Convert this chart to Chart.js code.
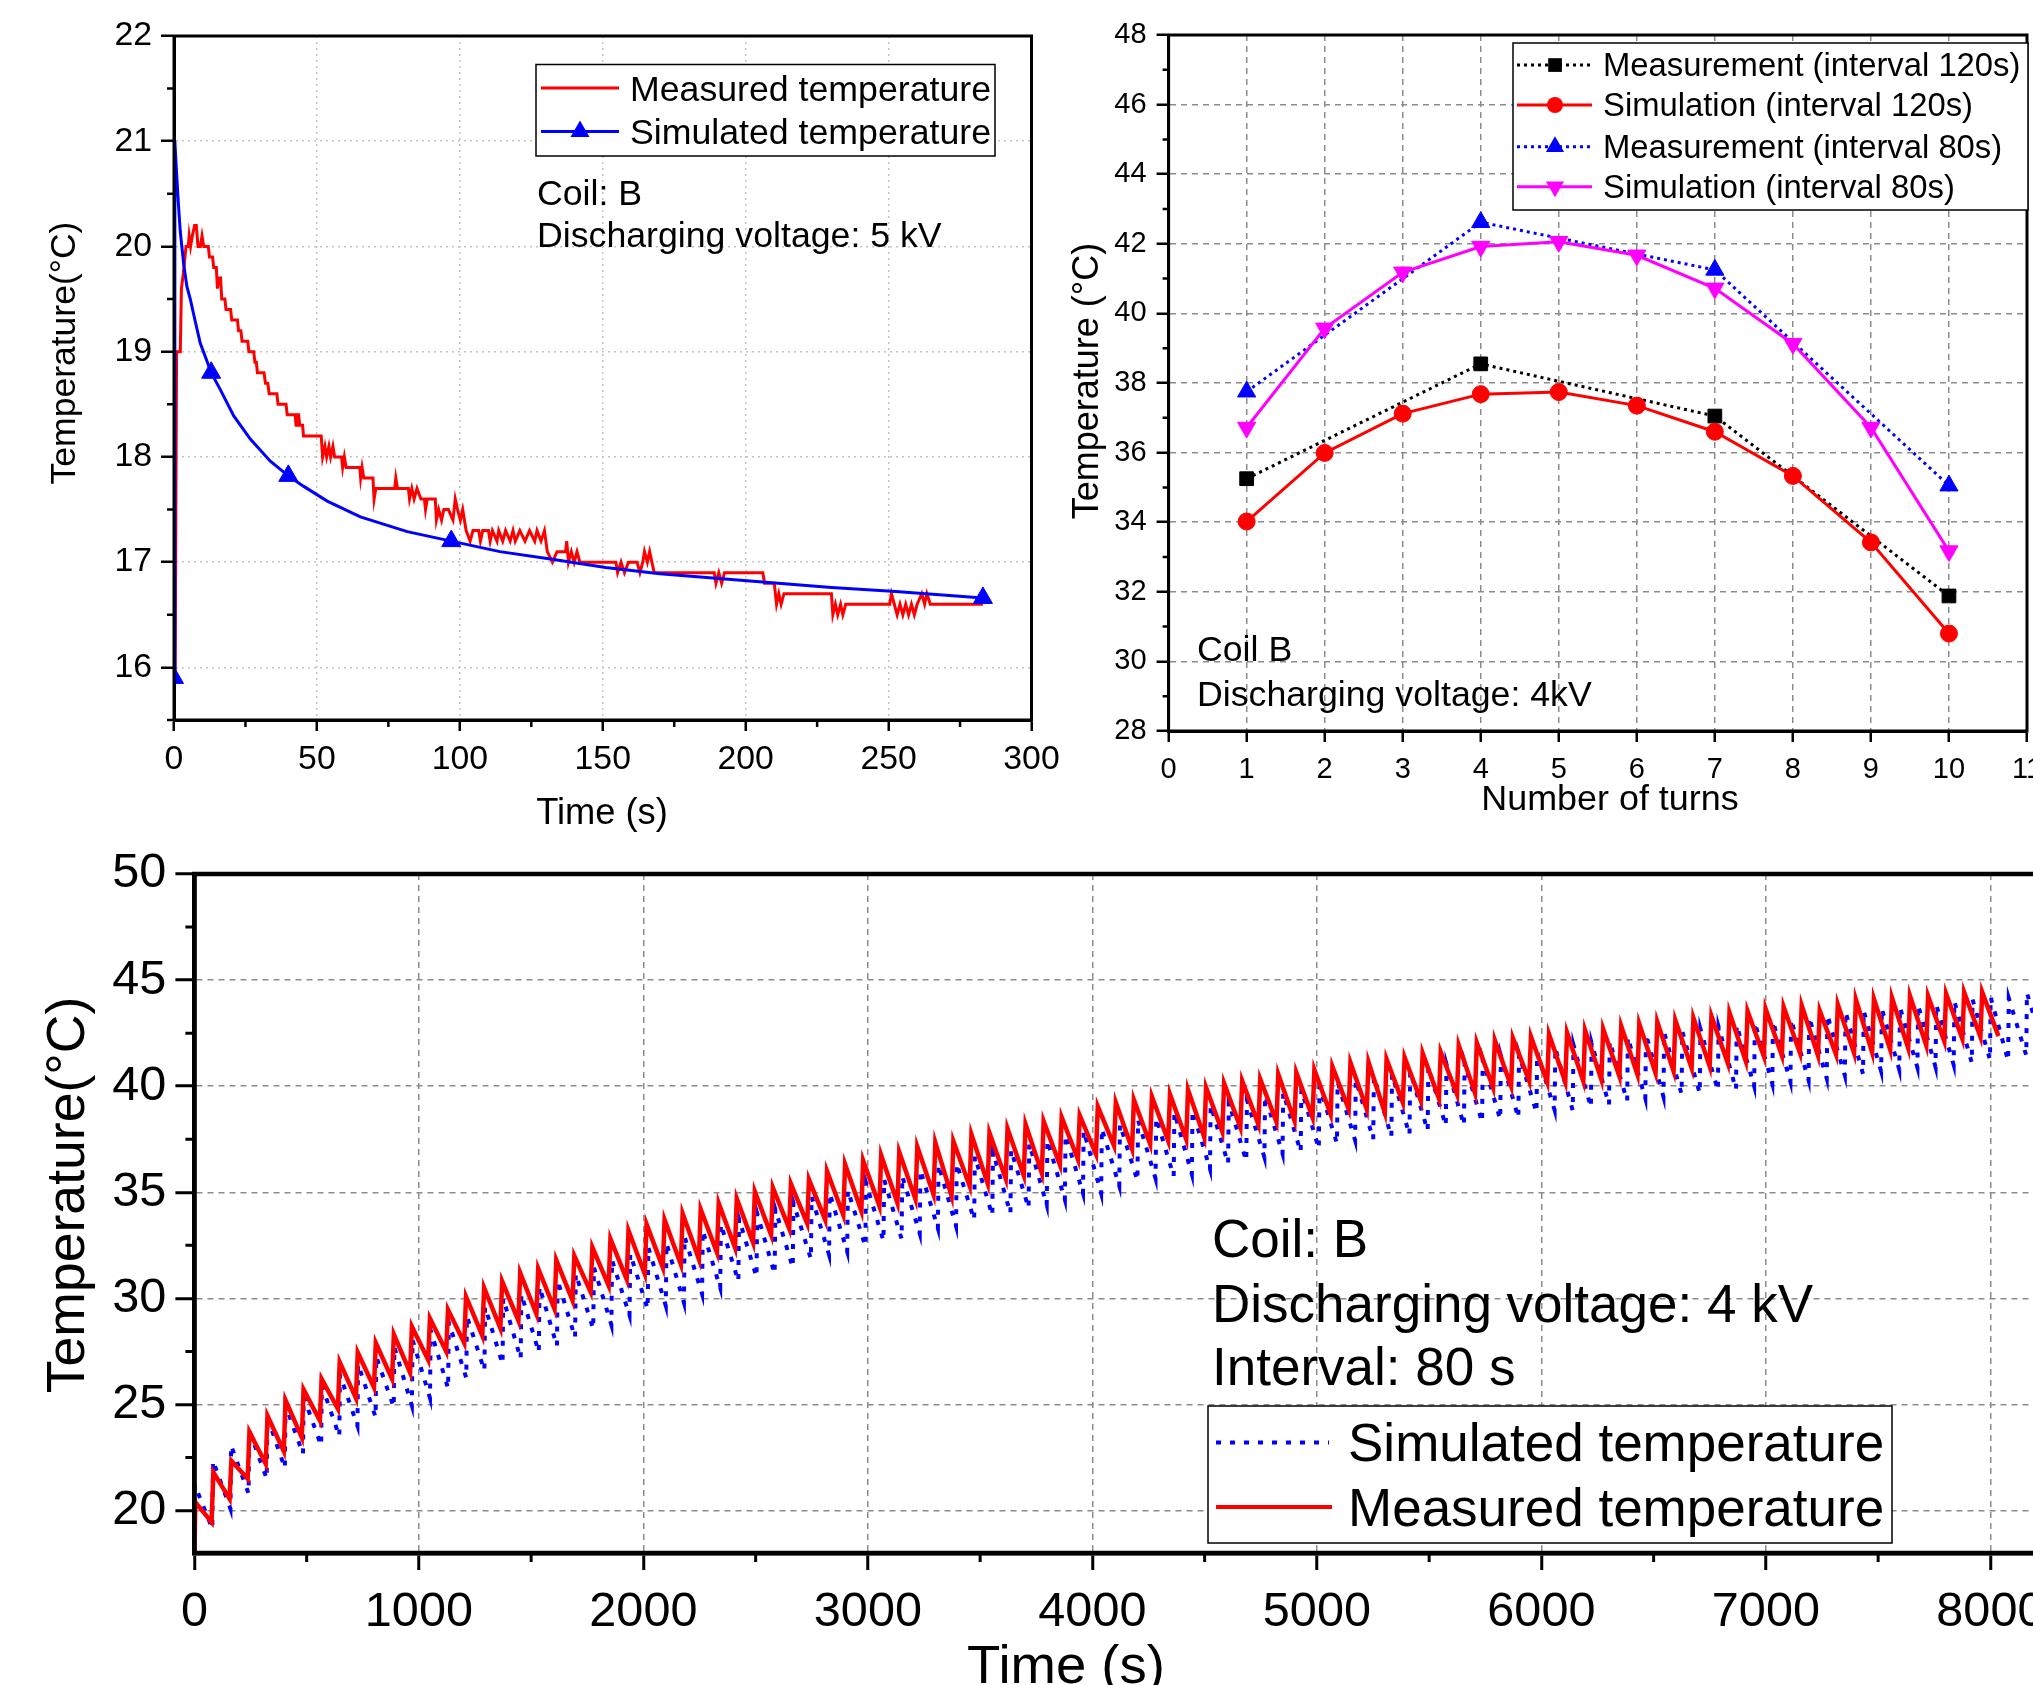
<!DOCTYPE html>
<html><head><meta charset="utf-8">
<script src="https://cdn.jsdelivr.net/npm/chart.js@4.4.1/dist/chart.umd.min.js"></script>
<style>
html,body{margin:0;padding:0;background:#fff;overflow:hidden;}
body{width:2033px;height:1685px;position:relative;font-family:"Liberation Sans",Arial,Helvetica,sans-serif;color:#000;}
.cv{position:absolute;}
.t{position:absolute;white-space:nowrap;line-height:1;}
.rot{transform:translate(-50%,-50%) rotate(-90deg);}
.ctr{transform:translateX(-50%);}
</style></head><body>
<div class="cv" style="left:0;top:0;width:1100px;height:840px"><canvas id="c1" width="1100" height="840" style="width:1100px;height:840px"></canvas></div>
<div class="cv" style="left:1060px;top:0;width:1030px;height:840px"><canvas id="c2" width="1030" height="840" style="width:1030px;height:840px"></canvas></div>
<div class="cv" style="left:0;top:800px;width:2100px;height:885px"><canvas id="c3" width="2100" height="885" style="width:2100px;height:885px"></canvas></div>

<svg style="position:absolute;left:0;top:0" width="2033" height="1685">
  <rect x="536" y="64.5" width="459" height="91.5" fill="#fff" stroke="#000" stroke-width="1.5"/>
  <line x1="541" y1="88" x2="619" y2="88" stroke="#ff0000" stroke-width="3"/>
  <line x1="541" y1="131.5" x2="619" y2="131.5" stroke="#0000ff" stroke-width="3"/>
  <polygon points="580,120.5 589.5,137 570.5,137" fill="#0000ff"/>

  <rect x="1513" y="43" width="515" height="167" fill="#fff" stroke="#000" stroke-width="1.5"/>
  <line x1="1517" y1="65" x2="1592" y2="65" stroke="#000" stroke-width="3" stroke-dasharray="3 4"/>
  <rect x="1548.2" y="58.2" width="13.7" height="13.7" fill="#000"/>
  <line x1="1517" y1="105" x2="1592" y2="105" stroke="#ff0000" stroke-width="3"/>
  <circle cx="1555" cy="105" r="8" fill="#ff0000"/>
  <line x1="1517" y1="146.7" x2="1592" y2="146.7" stroke="#0000ff" stroke-width="3" stroke-dasharray="3 4"/>
  <polygon points="1555,136.2 1564.1,151.95 1545.9,151.95" fill="#0000ff"/>
  <line x1="1517" y1="186.7" x2="1592" y2="186.7" stroke="#ff00ff" stroke-width="3"/>
  <polygon points="1555,197.2 1564.1,181.45 1545.9,181.45" fill="#ff00ff"/>

  <rect x="1208" y="1406" width="684" height="137" fill="#fff" stroke="#000" stroke-width="1.5"/>
  <line x1="1216" y1="1442.4" x2="1329" y2="1442.4" stroke="#0000ff" stroke-width="4" stroke-dasharray="5 9"/>
  <line x1="1216" y1="1507" x2="1332" y2="1507" stroke="#ff0000" stroke-width="4"/>
</svg>

<div class="t rot" style="left:64px;top:353px;font-size:35.5px">Temperature(°C)</div>
<div class="t ctr" style="left:602px;top:794px;font-size:36.3px">Time (s)</div>
<div class="t" style="left:630px;top:72px;font-size:35.7px">Measured temperature</div>
<div class="t" style="left:630px;top:115px;font-size:35.7px">Simulated temperature</div>
<div class="t" style="left:537px;top:176px;font-size:35.7px">Coil: B</div>
<div class="t" style="left:537px;top:218px;font-size:35.7px">Discharging voltage: 5 kV</div>

<div class="t rot" style="left:1086px;top:381px;font-size:36px">Temperature (°C)</div>
<div class="t ctr" style="left:1610px;top:781px;font-size:35.9px">Number of turns</div>
<div class="t" style="left:1603px;top:49px;font-size:32.8px">Measurement (interval 120s)</div>
<div class="t" style="left:1603px;top:89px;font-size:32.8px">Simulation (interval 120s)</div>
<div class="t" style="left:1603px;top:131px;font-size:32.8px">Measurement (interval 80s)</div>
<div class="t" style="left:1603px;top:171px;font-size:32.8px">Simulation (interval 80s)</div>
<div class="t" style="left:1197px;top:632px;font-size:35.7px">Coil B</div>
<div class="t" style="left:1197px;top:677px;font-size:35.7px">Discharging voltage: 4kV</div>

<div class="t rot" style="left:66px;top:1195px;font-size:53.6px">Temperature(°C)</div>
<div class="t ctr" style="left:1066px;top:1638px;font-size:54.5px">Time (s)</div>
<div class="t" style="left:1212px;top:1212px;font-size:53px">Coil: B</div>
<div class="t" style="left:1212px;top:1277px;font-size:53px">Discharging voltage: 4 kV</div>
<div class="t" style="left:1212px;top:1340px;font-size:53px">Interval: 80 s</div>
<div class="t" style="left:1348px;top:1416px;font-size:53px">Simulated temperature</div>
<div class="t" style="left:1348px;top:1481px;font-size:53px">Measured temperature</div>

<script>
// ---------------- Panel 1 (coil B, 5 kV, single discharge) ----------------
const p1XTicks = [0, 50, 100, 150, 200, 250, 300];
const p1YTicks = [16, 17, 18, 19, 20, 21, 22];
const p1Measured = [
 [0,15.9],[0.4,15.9],[0.9,19.0],[2.2,19.0],[2.6,19.6],[3.3,19.75],[4.2,20.0],[5.0,20.0],[5.3,20.1],[5.8,20.0],
 [6.4,20.1],[7.2,20.2],[7.8,20.2],[8.4,20.0],[9.2,20.0],[9.8,20.1],[10.4,20.0],[12.0,20.0],[12.4,19.9],[13.5,19.9],
 [13.9,19.8],[14.8,19.8],[15.2,19.6],[15.6,19.7],[16.3,19.7],[16.7,19.5],[17.8,19.5],[18.2,19.4],[19.8,19.4],[20.2,19.3],
 [22.2,19.3],[22.6,19.2],[23.4,19.2],[23.8,19.1],[25.8,19.1],[26.2,19.0],[27.9,19.0],[28.3,18.9],[28.8,18.9],[29.2,18.8],
 [31.5,18.8],[32.0,18.7],[32.8,18.7],[33.3,18.6],[36.0,18.6],[36.4,18.5],[39.2,18.5],[39.6,18.4],[42.4,18.4],[42.7,18.3],
 [43.0,18.4],[43.6,18.4],[44.0,18.3],[45.0,18.3],[45.3,18.2],[51.5,18.2],[52.0,18.0],[52.8,18.1],[53.4,18.0],[54.2,18.1],
 [54.8,18.0],[55.6,18.1],[56.2,18.0],[58.6,18.0],[59.0,17.9],[59.6,18.0],[60.2,17.9],[65.0,17.9],[65.3,17.8],[65.8,17.9],
 [66.4,17.8],[69.6,17.8],[70.0,17.6],[70.6,17.7],[77.2,17.7],[77.6,17.8],[78.2,17.7],[82.0,17.7],[82.4,17.6],[83.2,17.7],
 [84.0,17.6],[85.0,17.7],[86.4,17.6],[87.6,17.6],[88.0,17.5],[88.6,17.6],[91.4,17.6],[91.8,17.4],[92.6,17.5],[93.6,17.4],
 [94.4,17.5],[96.0,17.5],[97.6,17.4],[98.4,17.6],[99.2,17.5],[100.2,17.4],[101.0,17.5],[102.2,17.3],[103.6,17.2],[104.6,17.3],
 [106.6,17.3],[107.2,17.2],[108.0,17.3],[110.0,17.3],[110.6,17.2],[111.4,17.3],[113.0,17.2],[113.6,17.3],[115.0,17.2],[116.0,17.3],
 [117.6,17.2],[118.6,17.3],[119.4,17.2],[121.0,17.3],[122.8,17.2],[124.4,17.3],[126.2,17.2],[127.0,17.3],[128.4,17.2],[129.6,17.3],
 [130.6,17.1],[132.4,17.0],[134.0,17.1],[137.0,17.1],[137.4,17.2],[138.0,17.0],[139.0,17.1],[140.0,17.0],[141.0,17.1],[142.0,17.0],
 [154.6,17.0],[155.2,16.9],[156.4,17.0],[157.6,16.9],[159.0,17.0],[162.0,17.0],[163.0,16.9],[164.0,17.0],[164.6,17.1],[165.6,17.0],
 [166.4,17.1],[167.2,17.0],[168.0,16.9],[189.0,16.9],[189.6,16.8],[190.6,16.9],[191.6,16.8],[192.6,16.9],[206.0,16.9],[206.6,16.8],
 [210.0,16.8],[210.8,16.6],[211.6,16.7],[212.4,16.6],[213.4,16.7],[214.0,16.7],[230.0,16.7],[230.5,16.5],[231.4,16.6],[232.2,16.5],
 [233.2,16.6],[234.0,16.5],[235.0,16.6],[250.4,16.6],[251.0,16.7],[252.0,16.6],[253.0,16.5],[254.0,16.6],[255.0,16.5],[256.0,16.6],
 [257.0,16.5],[258.0,16.6],[259.0,16.5],[260.0,16.6],[261.6,16.7],[262.6,16.6],[263.4,16.7],[264.6,16.6],[283.0,16.6]
];
const p1SimulatedT = [0, 0.3, 0.8, 1.5, 2.2, 3.4, 4.5, 5.7, 7.5, 9.2, 11, 13, 16.2, 20.9, 26.7, 33.7, 40, 45.4, 53.6, 65.2, 81.6, 97, 114, 131.7, 151, 170, 201.5, 230, 252.5, 283];
const p1SimulatedV = [15.9, 21.0, 20.75, 20.42, 20.14, 19.83, 19.62, 19.5, 19.28, 19.08, 18.95, 18.8, 18.64, 18.39, 18.17, 17.96, 17.82, 17.72, 17.58, 17.43, 17.29, 17.2, 17.1, 17.03, 16.95, 16.89, 16.82, 16.76, 16.72, 16.66];
const p1MarkerT = [0, 13, 40, 97, 283];

// ---------------- Panel 2 (temperature vs number of turns) ----------------
const p2XTicks = [0,1,2,3,4,5,6,7,8,9,10,11];
const p2YTicks = [28,30,32,34,36,38,40,42,44,46,48];
const turnsAll = [1,2,3,4,5,6,7,8,9,10];
const turnsMeasured = [1,4,7,10];
const meas120 = [35.25, 38.55, 37.05, 31.88];
const sim120 = [34.02, 35.99, 37.12, 37.68, 37.74, 37.35, 36.6, 35.33, 33.42, 30.8];
const meas80 = [37.75, 42.62, 41.25, 35.05];
const sim80 = [36.72, 39.57, 41.18, 41.92, 42.06, 41.67, 40.72, 39.13, 36.72, 33.17];

// ---------------- Panel 3 (repeated discharges, interval 80 s) ----------------
const p3XTicks = [0,1000,2000,3000,4000,5000,6000,7000,8000];
const p3YTicks = [20,25,30,35,40,45,50];
const measuredStart = 18.0;
const measuredFirstPeak = 4, measuredPeriod = 80.4, measuredRise = 8;
const measuredPeak = [
 20.4,21.8,22.35,23.7,24.47,25.2,25.7,26.2,27.0,27.45,27.9,28.3,28.67,29.06,29.47,30.08,30.5,30.8,31.2,31.4,31.8,32.0,32.4,32.8,33.2,
 33.5,33.7,34.0,34.2,34.48,34.7,35.03,35.22,35.4,35.6,36.0,36.32,36.5,36.74,36.9,37.15,37.34,37.41,37.73,37.8,38.0,38.2,38.35,38.54,38.62,
 39.05,39.23,39.36,39.51,39.62,39.83,39.94,40.13,40.25,40.33,40.56,40.64,40.77,40.92,41.11,41.14,41.27,41.35,41.55,41.61,41.93,42.05,42.16,42.26,42.34,
 42.45,42.52,42.63,42.7,42.83,42.94,43.03,43.11,43.22,43.3,43.46,43.54,43.65,43.74,43.8,43.55,43.85,44.09,44.12,44.17,44.25,44.25,44.36,44.43,44.43
];
const measuredTrough = [
 19.45,20.55,21.5,22.2,22.8,23.45,24.24,24.8,25.3,25.8,26.2,26.5,27.1,27.5,27.9,28.24,28.6,28.95,29.26,29.5,29.9,30.3,30.6,30.9,31.15,
 31.46,31.6,31.85,32.16,32.4,32.63,33.0,33.3,33.53,33.7,33.93,34.12,34.36,34.5,34.67,34.9,34.83,35.3,35.42,35.64,35.8,35.9,36.3,36.55,36.8,
 37.2,37.05,37.27,37.43,37.5,37.59,37.85,38.06,38.2,38.32,38.37,38.53,38.68,38.92,38.92,38.76,39.23,39.31,39.42,39.62,39.67,39.94,40.0,40.25,40.2,
 40.2,40.24,40.31,40.47,40.55,40.63,40.71,40.86,40.94,41.1,41.18,41.42,41.45,41.57,41.45,41.5,41.57,41.6,41.73,41.8,41.92,42.12,42.23,42.33,42.36
];
const simulatedStart = 20.3;
const simulatedFirstPeak = 2, simulatedPeriod = 80.8, simulatedRise = 3;
const simulatedPeak = [
 21.2,22.35,23.06,23.77,24.4,24.95,25.35,25.9,26.4,26.9,27.25,27.7,28.05,28.5,28.87,29.15,29.6,30.0,30.2,30.55,30.85,31.15,31.46,31.8,32.1,
 32.4,32.6,32.9,33.2,33.5,33.75,34.0,34.2,34.5,34.8,34.95,35.1,35.45,35.6,35.75,36.05,36.3,36.35,36.7,36.9,37.0,37.3,37.45,37.7,37.9,
 38.0,38.2,38.4,38.5,38.76,38.85,39.1,39.25,39.35,39.55,39.7,39.85,40.0,40.2,40.3,40.45,40.56,40.7,40.9,41.05,41.1,41.25,41.43,41.5,41.6,
 41.8,41.95,42.05,42.12,42.3,42.45,42.53,42.58,42.7,42.8,42.88,43.0,43.06,43.15,43.25,43.35,43.5,43.55,43.65,43.72,43.82,43.85,44.0,44.1,44.2,
 44.15,44.4
];
const simulatedTrough = [
 19.14,20.08,20.8,21.5,22.0,22.67,23.06,23.5,24.0,24.4,24.87,24.95,25.3,25.75,26.25,26.6,26.9,27.15,27.46,27.75,28.15,28.56,28.75,29.2,29.5,
 29.65,29.8,30.2,30.5,30.8,31.0,31.15,31.45,31.85,32.05,32.2,32.45,32.7,32.8,33.05,33.3,33.4,33.7,33.9,34.0,34.25,34.4,34.65,34.95,34.95,
 35.3,35.55,35.65,35.75,35.85,36.1,36.35,36.47,36.65,36.82,36.9,37.05,37.3,37.45,37.5,37.62,37.7,37.9,38.13,38.15,38.3,38.43,38.5,38.75,38.87,
 38.85,39.0,39.12,39.3,39.42,39.5,39.62,39.66,39.8,39.84,40.0,40.12,40.2,40.28,40.36,40.5,40.58,40.7,40.78,40.88,40.9,41.0,41.1,41.25,41.2,
 41.45,41.6
];

// ---------------- helpers ----------------
Chart.defaults.font.family = '"Liberation Sans", Arial, Helvetica, sans-serif';
Chart.defaults.color = '#000';

function sawtooth(start, firstPeak, period, rise, peaks, troughs) {
  const pts = [{x: 0, y: start}];
  for (let k = 0; k < peaks.length; k++) {
    pts.push({x: firstPeak + period * k, y: peaks[k]});
    pts.push({x: firstPeak + period * (k + 1) - rise, y: troughs[k]});
  }
  return pts;
}

function makeAxis(o) {
  return {
    type: 'linear', position: o.position, min: o.min, max: o.max,
    afterBuildTicks: s => { s.ticks = o.ticks.map(v => ({value: v})); },
    afterFit: s => { if (o.position === 'bottom') s.height = o.size; else s.width = o.size; },
    ticks: { callback: v => String(v), font: {size: o.font}, color: '#000', padding: o.pad, autoSkip: false, maxRotation: 0, minRotation: 0 },
    grid: { color: o.gridColor, lineWidth: o.gridWidth, tickLength: o.tickLen, tickColor: '#000', tickWidth: o.tickWidth, tickBorderDash: [] },
    border: { color: '#000', width: o.border, dash: o.dash }
  };
}

function makeDecor(cfg) {
  return {
    id: 'decor',
    afterDraw(chart) {
      const {ctx, chartArea: a, scales} = chart;
      ctx.save();
      ctx.strokeStyle = '#000';
      ctx.setLineDash([]);
      cfg.minor.forEach(m => {
        const s = scales[m.axis];
        const majors = s.ticks.map(t => t.value);
        ctx.lineWidth = m.width;
        ctx.beginPath();
        for (let i = 0; i < 1000; i++) {
          const v = m.from + i * m.step;
          if (v > s.max + 1e-9) break;
          if (v < s.min - 1e-9) continue;
          if (majors.some(mv => Math.abs(mv - v) < 1e-6)) continue;
          const p = s.getPixelForValue(v);
          if (m.axis === 'x') { ctx.moveTo(p, a.bottom); ctx.lineTo(p, a.bottom + m.len); }
          else { ctx.moveTo(a.left - m.len, p); ctx.lineTo(a.left, p); }
        }
        ctx.stroke();
      });
      ctx.lineWidth = cfg.box;
      ctx.strokeRect(a.left, a.top, a.right - a.left, a.bottom - a.top);
      ctx.restore();
    }
  };
}

const common = { animation: false, responsive: false, devicePixelRatio: 1, events: [],
  plugins: { legend: {display: false}, tooltip: {enabled: false}, title: {display: false} },
  elements: { line: { tension: 0 } } };

// ---------------- Chart 1 ----------------
new Chart(document.getElementById('c1'), {
  type: 'scatter',
  data: { datasets: [
    { label: 'Simulated temperature', data: p1SimulatedT.map((t, i) => ({x: t, y: p1SimulatedV[i]})), showLine: true,
      borderColor: '#0000ff', borderWidth: 3, pointStyle: 'triangle',
      pointRadius: p1SimulatedT.map(t => p1MarkerT.includes(t) ? 11 : 0),
      pointBackgroundColor: '#0000ff', pointBorderColor: '#0000ff', pointBorderWidth: 1 },
    { label: 'Measured temperature', data: p1Measured.map(p => ({x: p[0], y: p[1]})), showLine: true,
      borderColor: '#ff0000', borderWidth: 3, pointRadius: 0 }
  ]},
  options: Object.assign({}, common, {
    layout: { padding: {left: 0, right: 68.5, top: 36, bottom: 0} },
    scales: {
      x: makeAxis({position: 'bottom', min: 0, max: 300, ticks: p1XTicks, size: 120, font: 33.8, pad: 8,
        gridColor: '#c4c4c4', gridWidth: 1.5, tickLen: 11, tickWidth: 2.5, border: 3, dash: [2, 4]}),
      y: makeAxis({position: 'left', min: 15.5, max: 22, ticks: p1YTicks, size: 174, font: 33.8, pad: 9,
        gridColor: '#c4c4c4', gridWidth: 1.5, tickLen: 13, tickWidth: 2.5, border: 3, dash: [2, 4]})
    }
  }),
  plugins: [makeDecor({box: 3, minor: [
    {axis: 'x', from: 0, step: 25, len: 7, width: 2.5},
    {axis: 'y', from: 15.5, step: 0.5, len: 7, width: 2.5}]})]
});

// ---------------- Chart 2 ----------------
new Chart(document.getElementById('c2'), {
  type: 'scatter',
  data: { datasets: [
    { label: 'Simulation (interval 80s)', data: turnsAll.map((t, i) => ({x: t, y: sim80[i]})), showLine: true,
      borderColor: '#ff00ff', borderWidth: 3, pointStyle: 'triangle', rotation: 180, pointRadius: 10.5,
      pointBackgroundColor: '#ff00ff', pointBorderColor: '#ff00ff', pointBorderWidth: 1 },
    { label: 'Measurement (interval 80s)', data: turnsMeasured.map((t, i) => ({x: t, y: meas80[i]})), showLine: true,
      borderColor: '#0000ff', borderWidth: 3, borderDash: [3, 4], pointStyle: 'triangle', pointRadius: 10.5,
      pointBackgroundColor: '#0000ff', pointBorderColor: '#0000ff', pointBorderWidth: 1 },
    { label: 'Simulation (interval 120s)', data: turnsAll.map((t, i) => ({x: t, y: sim120[i]})), showLine: true,
      borderColor: '#ff0000', borderWidth: 3, pointStyle: 'circle', pointRadius: 8.5,
      pointBackgroundColor: '#ff0000', pointBorderColor: '#ff0000', pointBorderWidth: 1 },
    { label: 'Measurement (interval 120s)', data: turnsMeasured.map((t, i) => ({x: t, y: meas120[i]})), showLine: true,
      borderColor: '#000000', borderWidth: 3, borderDash: [3, 4], pointStyle: 'rect', pointRadius: 9.7,
      pointBackgroundColor: '#000000', pointBorderColor: '#000000', pointBorderWidth: 1 }
  ]},
  options: Object.assign({}, common, {
    layout: { padding: {left: 0, right: 63, top: 35, bottom: 0} },
    scales: {
      x: makeAxis({position: 'bottom', min: 0, max: 11, ticks: p2XTicks, size: 109, font: 29, pad: 11,
        gridColor: '#8c8c8c', gridWidth: 1.5, tickLen: 11, tickWidth: 2.5, border: 3, dash: [6, 5]}),
      y: makeAxis({position: 'left', min: 28, max: 48, ticks: p2YTicks, size: 108.6, font: 29, pad: 10,
        gridColor: '#8c8c8c', gridWidth: 1.5, tickLen: 12, tickWidth: 2.5, border: 3, dash: [6, 5]})
    }
  }),
  plugins: [makeDecor({box: 3, minor: [
    {axis: 'y', from: 28, step: 1, len: 6, width: 2.5}]})]
});

// ---------------- Chart 3 ----------------
new Chart(document.getElementById('c3'), {
  type: 'scatter',
  data: { datasets: [
    { label: 'Measured temperature',
      data: sawtooth(measuredStart, measuredFirstPeak, measuredPeriod, measuredRise, measuredPeak, measuredTrough),
      showLine: true, borderColor: '#ff0000', borderWidth: 4.5, pointRadius: 0 },
    { label: 'Simulated temperature',
      data: sawtooth(simulatedStart, simulatedFirstPeak, simulatedPeriod, simulatedRise, simulatedPeak, simulatedTrough),
      showLine: true, borderColor: '#0000ff', borderWidth: 4, borderDash: [5, 9], pointRadius: 0 }
  ]},
  options: Object.assign({}, common, {
    layout: { padding: {left: 0, right: 53.5, top: 74, bottom: 0} },
    scales: {
      x: makeAxis({position: 'bottom', min: 0, max: 8250, ticks: p3XTicks, size: 132, font: 48.6, pad: 13,
        gridColor: '#8c8c8c', gridWidth: 1.5, tickLen: 17, tickWidth: 3, border: 4.5, dash: [6, 5]}),
      y: makeAxis({position: 'left', min: 18, max: 50, ticks: p3YTicks, size: 194.4, font: 48.6, pad: 9,
        gridColor: '#8c8c8c', gridWidth: 1.5, tickLen: 19, tickWidth: 3, border: 4.5, dash: [6, 5]})
    }
  }),
  plugins: [makeDecor({box: 4.5, minor: [
    {axis: 'x', from: 0, step: 500, len: 9, width: 3},
    {axis: 'y', from: 17.5, step: 2.5, len: 9, width: 3}]})]
});
</script>
</body></html>
